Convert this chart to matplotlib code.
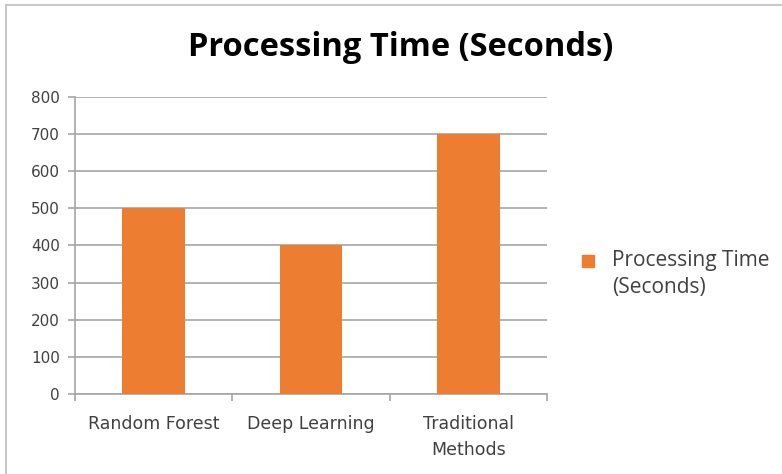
import matplotlib.pyplot as plt
from matplotlib.lines import Line2D
from matplotlib.patches import Rectangle

# Data
methods = ['Random Forest', 'Deep Learning', 'Traditional\nMethods']
times = [500, 400, 700]
series_name = 'Processing Time\n(Seconds)'
title = 'Processing Time (Seconds)'

bar_color = '#ED7D31'
grid_color = '#A6A6A6'
W, H = 782, 474

fig = plt.figure(figsize=(W / 100, H / 100), dpi=100)
ax = fig.add_axes([0.0959, 0.1688, 0.6036, 0.6266])

# Bars
ax.bar(range(len(methods)), times, width=0.4, color=bar_color, zorder=3)

# Axes limits and ticks
ax.set_xlim(-0.5, len(methods) - 0.5)
ax.set_ylim(0, 800)
ax.set_yticks(range(0, 801, 100))
ax.yaxis.grid(True, color=grid_color, linewidth=1.2, zorder=0)

# Category labels centered, tick marks at boundaries
ax.set_xticks(range(len(methods)))
ax.set_xticklabels(methods, fontsize=12.5, color='#404040', family='DejaVu Sans',
                   linespacing=1.6)
ax.tick_params(axis='x', length=0, pad=15)
ax.set_xticks([i - 0.5 for i in range(len(methods) + 1)], minor=True)
ax.tick_params(axis='x', which='minor', length=5, width=1.2, color=grid_color)
ax.tick_params(axis='y', length=5, width=1.2, color=grid_color, labelsize=11,
               labelcolor='#404040', pad=6)

for side in ['top', 'right']:
    ax.spines[side].set_visible(False)
for side in ['left', 'bottom']:
    ax.spines[side].set_color(grid_color)
    ax.spines[side].set_linewidth(1.2)

# Title
fig.text(0.512, 0.90, title, ha='center', va='center', fontsize=23.5,
         fontweight='bold', family='Open Sans', color='black')

# Legend (marker aligned with the first text line)
fig.add_artist(Line2D([588 / W], [1 - 261 / H], transform=fig.transFigure,
                      marker='s', markersize=8, linestyle='none', color=bar_color))
fig.text(612 / W, 1 - 250 / H, series_name, ha='left', va='top',
         family='Open Sans', fontsize=15, color='#404040', linespacing=1.35)

# Outer chart border
fig.patches.append(Rectangle((0.008, -0.05), 1.2, 1.04, transform=fig.transFigure,
                             fill=False, edgecolor='#C8C8C8', linewidth=1.5))

fig.savefig('out.png', dpi=100)
